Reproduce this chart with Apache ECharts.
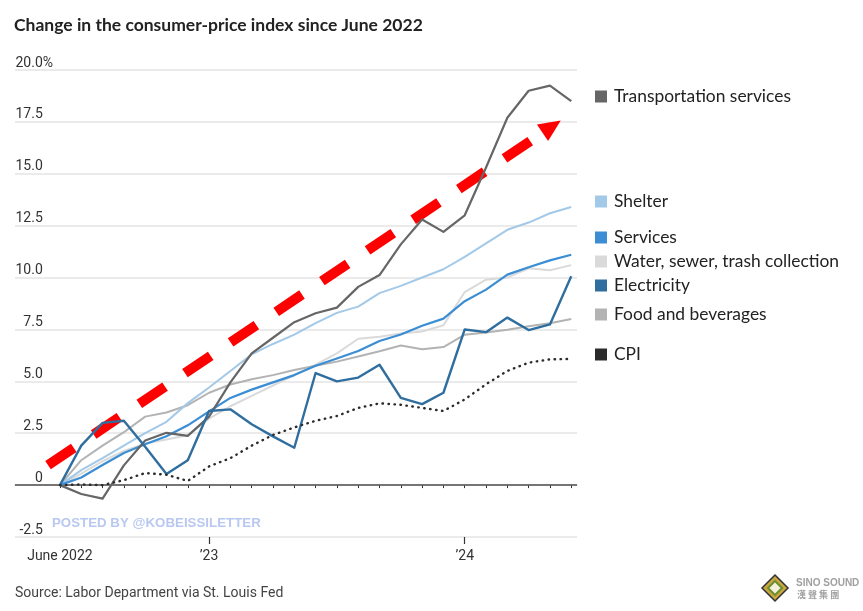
<!DOCTYPE html>
<html>
<head>
<meta charset="utf-8">
<script src="https://cdn.jsdelivr.net/npm/echarts@6/dist/echarts.min.js"></script>
<style>
html,body{margin:0;padding:0;background:#fff;}
#chart{width:863px;height:611px;}
</style>
</head>
<body>
<div id="chart"></div>
<script>
// Months since June 2022 (0 = June 2022 ... 24 = June 2024)
const months = Array.from({length: 25}, (_, i) => i);
const xTickLabels = {0: 'June 2022', 7: '\u201923', 19: '\u201924'};
const yTicks = [-2.5, 0, 2.5, 5, 7.5, 10, 12.5, 15, 17.5, 20];

const transportation = [0, -0.43, -0.65, 0.95, 2.15, 2.52, 2.37, 3.3, 4.95, 6.35, 7.1, 7.85, 8.28, 8.55, 9.55, 10.12, 11.6, 12.8, 12.2, 13.0, 15.3, 17.7, 19.0, 19.25, 18.5];
const shelter = [0, 0.72, 1.3, 1.9, 2.5, 3.05, 3.95, 4.7, 5.5, 6.3, 6.8, 7.25, 7.8, 8.3, 8.6, 9.25, 9.6, 10.0, 10.4, 11.0, 11.65, 12.3, 12.65, 13.1, 13.4];
const services = [0, 0.37, 0.97, 1.55, 1.97, 2.35, 2.88, 3.55, 4.2, 4.6, 4.95, 5.3, 5.75, 6.1, 6.46, 6.94, 7.26, 7.68, 8.02, 8.86, 9.42, 10.14, 10.5, 10.83, 11.1];
const water = [0, 0.55, 1.15, 1.65, 2.0, 2.2, 2.4, 3.2, 3.8, 4.3, 4.8, 5.3, 5.8, 6.35, 7.05, 7.15, 7.3, 7.4, 7.7, 9.3, 9.9, 10.0, 10.45, 10.35, 10.6];
const electricity = [0, 1.9, 3.0, 3.1, 1.85, 0.53, 1.2, 3.57, 3.65, 2.93, 2.35, 1.8, 5.4, 5.0, 5.18, 5.8, 4.2, 3.9, 4.45, 7.5, 7.37, 8.07, 7.47, 7.74, 10.06];
const food = [0, 1.2, 1.9, 2.55, 3.3, 3.5, 3.85, 4.45, 4.85, 5.1, 5.3, 5.55, 5.75, 5.95, 6.2, 6.45, 6.73, 6.55, 6.65, 7.25, 7.35, 7.48, 7.65, 7.8, 8.0];
const cpi = [0, 0.03, 0.0, 0.24, 0.58, 0.5, 0.2, 0.9, 1.3, 1.9, 2.42, 2.78, 3.1, 3.33, 3.72, 3.94, 3.87, 3.72, 3.57, 4.13, 4.86, 5.5, 5.9, 6.06, 6.08];

// Annotation arrow (in axis units: month index, percent)
const arrowStart = [-0.56, 0.96];
const arrowEnd = [23.08, 17.27];

const seriesDefs = [
  {name: 'Water, sewer, trash collection', data: water, color: '#dadada', width: 2},
  {name: 'Food and beverages', data: food, color: '#b3b3b3', width: 2},
  {name: 'Shelter', data: shelter, color: '#a3c9e8', width: 2},
  {name: 'Services', data: services, color: '#3b8dd4', width: 2.2},
  {name: 'Transportation services', data: transportation, color: '#666666', width: 2.2},
  {name: 'Electricity', data: electricity, color: '#2f6e9e', width: 2.4},
  {name: 'CPI', data: cpi, color: '#2b2b2b', width: 2.4, dotted: true}
];

const legendPos = [
  ['Transportation services', 96],
  ['Shelter', 201],
  ['Services', 237],
  ['Water, sewer, trash collection', 261],
  ['Electricity', 285],
  ['Food and beverages', 314],
  ['CPI', 354]
];

const chart = echarts.init(document.getElementById('chart'), null, {renderer: 'canvas'});

const series = seriesDefs.map((s, k) => ({
  name: s.name,
  type: 'line',
  data: months.map((m, i) => [m, s.data[i]]),
  showSymbol: false,
  symbol: 'none',
  color: s.color,
  z: 3 + k,
  lineStyle: {color: s.color, width: s.width, type: s.dotted ? [0.5, 5.5] : 'solid', cap: s.dotted ? 'round' : 'butt', join: 'round'},
  emphasis: {disabled: true}
}));

series.unshift({
  type: 'line', name: '_zero', data: [], z: 2, silent: true,
  markLine: {
    silent: true, symbol: ['none', 'none'], label: {show: false},
    lineStyle: {color: '#555', width: 1.6, type: 'solid'},
    data: [{yAxis: 0}], animation: false
  }
});

series.push({
  type: 'line', name: '_arrow', data: [], z: 20, silent: true,
  markLine: {
    silent: true, symbol: ['none', 'triangle'], symbolSize: [20, 22],
    label: {show: false},
    lineStyle: {color: '#ff0000', width: 10, type: [31, 24], cap: 'butt', opacity: 1},
    itemStyle: {color: '#ff0000'},
    data: [[{coord: arrowStart}, {coord: arrowEnd}]], animation: false
  }
});

const legends = legendPos.map(([name, cy]) => ({
  data: [name],
  left: 595,
  top: cy - 8,
  padding: 0,
  icon: 'rect',
  itemWidth: 12,
  itemHeight: 12,
  itemGap: 0,
  selectedMode: false,
  textStyle: {fontFamily: 'Lato', fontSize: 17.4, color: '#222', padding: [0, 0, 0, 2]}
}));

const option = {
  animation: false,
  backgroundColor: '#fff',
  title: {
    text: 'Change in the consumer-price index since June 2022',
    left: 14, top: 16, padding: 0,
    textStyle: {fontFamily: 'Lato', fontWeight: 'bold', fontSize: 17.5, color: '#222'}
  },
  legend: legends,
  grid: {left: 15, right: 286, top: 70, bottom: 74, containLabel: false},
  xAxis: [{
    type: 'value', min: -2.11, max: 24.27,
    axisLine: {show: true, lineStyle: {color: '#cfcfcf', width: 1.5}},
    axisTick: {show: true, customValues: months, length: 3, lineStyle: {color: '#333', width: 1}},
    axisLabel: {
      show: true, customValues: [0, 7, 19],
      formatter: v => xTickLabels[v] || '',
      fontFamily: 'Roboto', fontSize: 14, color: '#333', margin: 12
    },
    splitLine: {show: false}
  }, {
    type: 'value', min: -2.11, max: 24.27, position: 'bottom',
    axisLine: {show: false},
    axisTick: {show: true, customValues: [7, 19], length: 7, lineStyle: {color: '#333', width: 1.2}},
    axisLabel: {show: false},
    splitLine: {show: false}
  }],
  yAxis: {
    type: 'value', min: -2.5, max: 20, interval: 2.5,
    axisLine: {show: false}, axisTick: {show: false},
    splitLine: {show: true, lineStyle: {color: '#e4e4e4', width: 1.5}},
    axisLabel: {
      inside: true, align: 'right', verticalAlign: 'bottom', margin: 38,
      padding: [0, 0, 0, 0],
      fontFamily: 'Roboto', fontSize: 14, color: '#333',
      formatter: v => {
        const s = (v === 0) ? '0' : (Number.isInteger(v) ? v.toFixed(1) : String(v));
        return v === 20 ? s + '%' : s + '{h|%}';
      },
      rich: {h: {fontFamily: 'Roboto', fontSize: 14, color: 'rgba(0,0,0,0)'}}
    }
  },
  graphic: [
    {type: 'text', left: 52, top: 517, z: 30, silent: true,
      style: {text: 'POSTED BY @KOBEISSILETTER', fontFamily: 'Liberation Sans', fontWeight: 'bold', fontSize: 13.3, fill: '#b9c8f0'}},
    {type: 'text', left: 15, top: 586, silent: true,
      style: {text: 'Source: Labor Department via St. Louis Fed', fontFamily: 'Roboto', fontSize: 14, fill: '#444'}},
    {type: 'polygon', silent: true, shape: {points: [[775, 575], [788, 588], [775, 601], [762, 588]]},
      style: {fill: '#c9a640', stroke: '#333', lineWidth: 1.5}},
    {type: 'polygon', silent: true, shape: {points: [[775, 581], [782, 588], [775, 595], [768, 588]]},
      style: {fill: '#f4f0dc', stroke: '#6e8f2e', lineWidth: 2}},
    {type: 'text', left: 796, top: 578, silent: true,
      style: {text: 'SINO SOUND', fontFamily: 'Liberation Sans', fontWeight: 'bold', fontSize: 10, fill: '#a0a0a0'}},
    {type: 'text', left: 797, top: 590, silent: true,
      style: {text: '\u6f22 \u8072 \u96c6 \u5718', fontFamily: 'Noto Sans CJK TC', fontWeight: 'bold', fontSize: 9, fill: '#a0a0a0'}}
  ],
  series: series
};

chart.setOption(option);
</script>
</body>
</html>
